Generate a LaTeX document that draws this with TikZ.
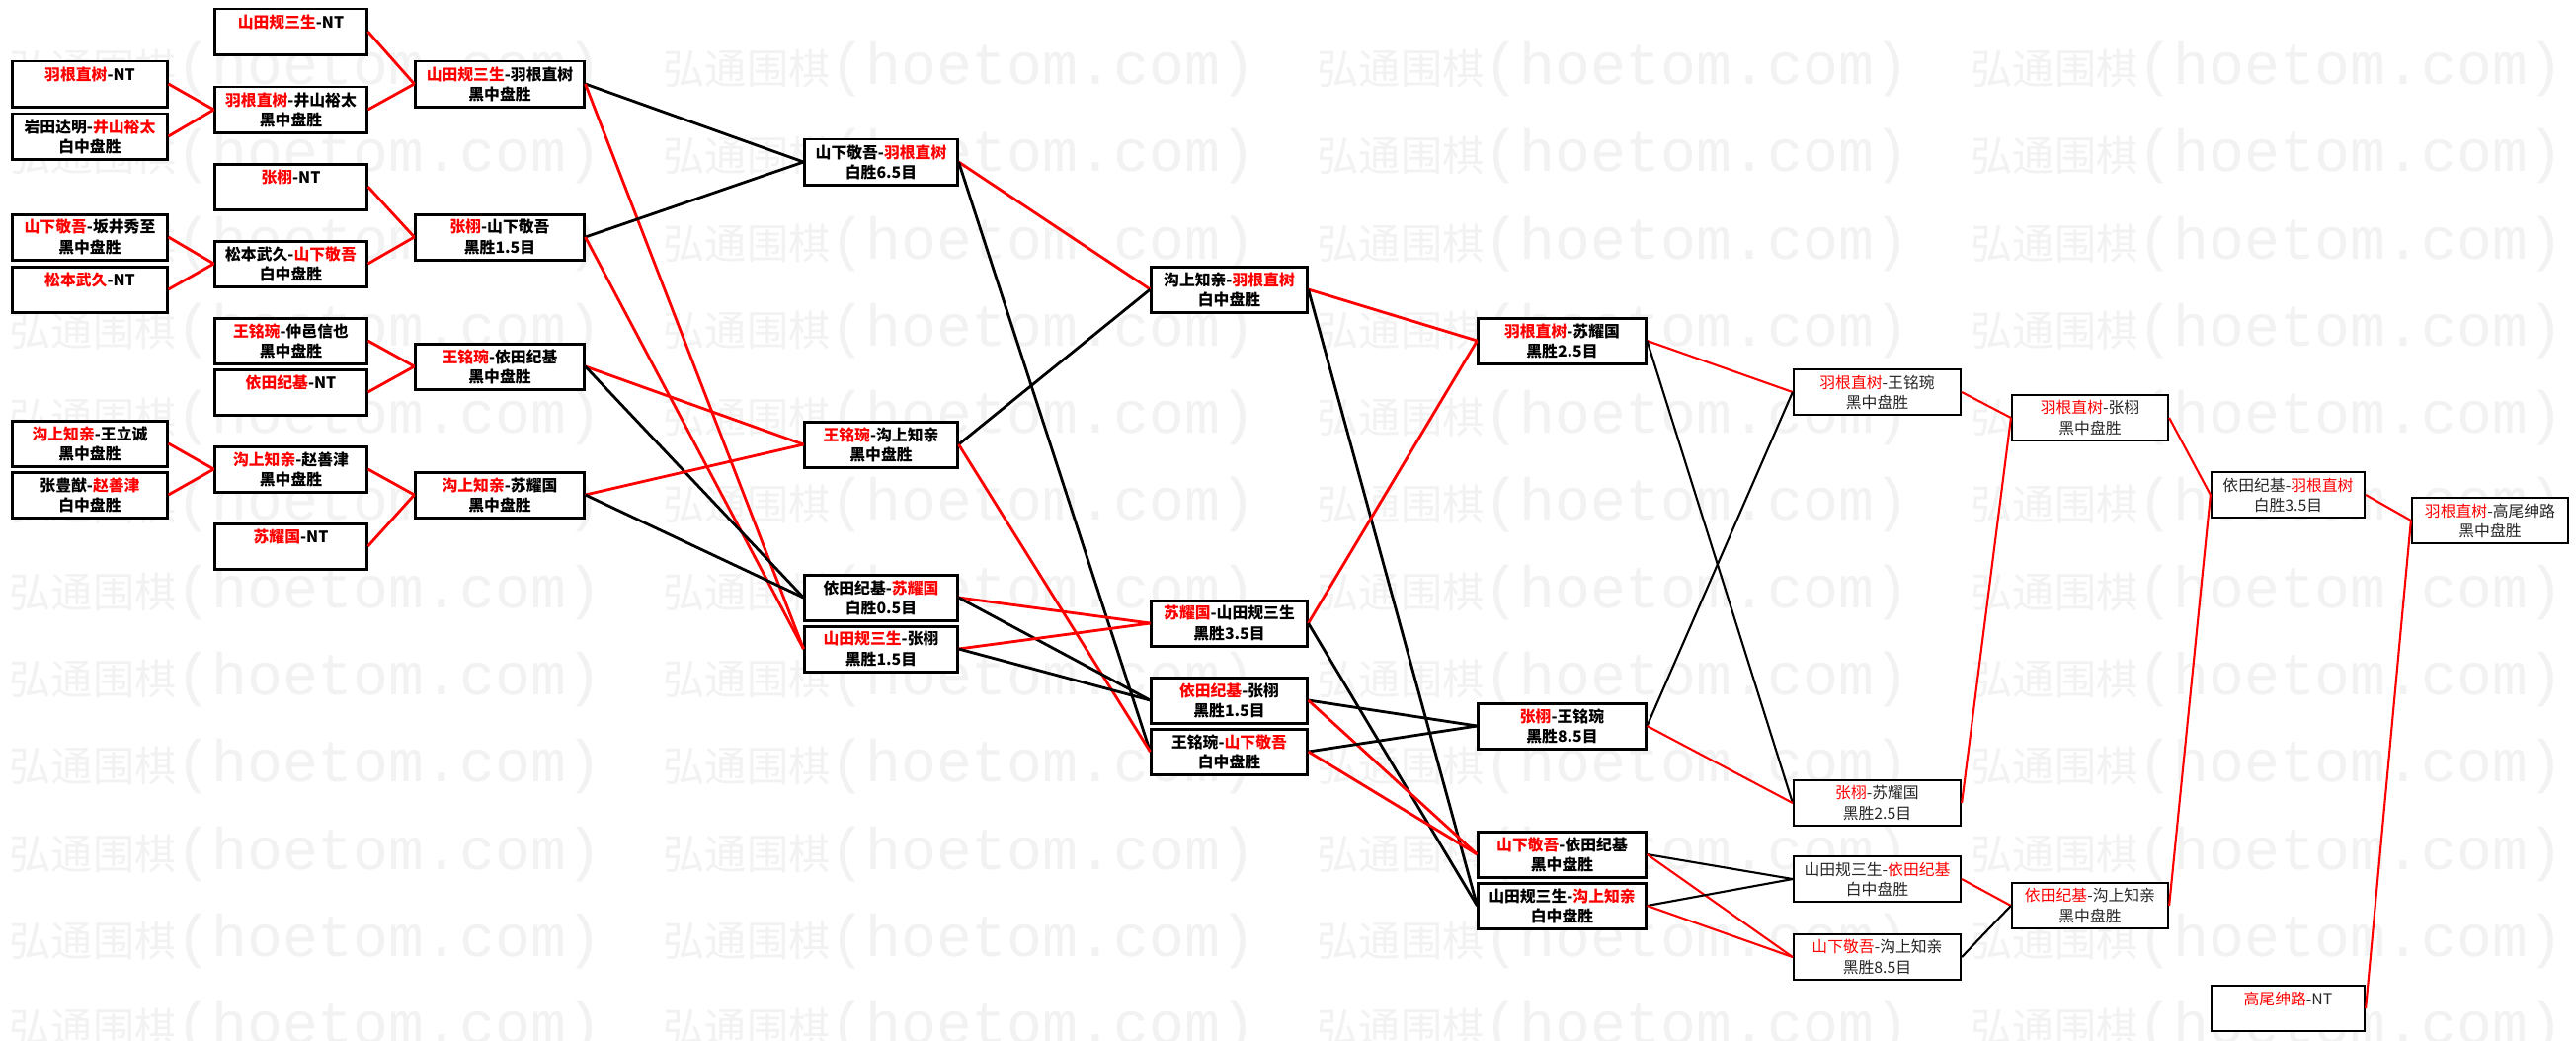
\documentclass[tikz,border=0pt]{standalone}
\usepackage{fontspec}
\setmainfont{Noto Sans CJK SC}
\newfontfamily\cjk{Noto Sans CJK SC}
\newfontfamily\wmmono{Liberation Mono}
\newcommand{\rd}[1]{\textcolor{red}{#1}}
\tikzset{
  bx/.style={draw=black, line width=0.85pt, fill=white, minimum height=0.46cm,
    inner sep=0pt, align=center, font=\fontsize{4.5pt}{5.7pt}\selectfont\bfseries},
  bxl/.style={draw=black, line width=0.6pt, fill=white, minimum height=0.46cm,
    inner sep=0pt, align=center, text=black!85, font=\fontsize{4.5pt}{5.7pt}\selectfont},
  win/.style={red, line width=0.8pt},
  lose/.style={black, line width=0.8pt},
  winl/.style={red, line width=0.6pt},
  losel/.style={black, line width=0.6pt},
  wm/.style={text=black!5, inner sep=0pt, anchor=west},
}
\begin{document}
\begin{tikzpicture}[x=0.01cm,y=-0.01cm]
\useasboundingbox[fill=white] (0,0) rectangle (2608,1053);
% watermark
\foreach \r in {0,...,11}{
  \foreach \c in {0,...,3}{
    \node[wm] (wm\r-\c) at ({9+662*\c},{70+88.3*\r})
      {{\cjk\fontsize{12pt}{12pt}\selectfont 弘通围棋}{\wmmono\fontsize{17pt}{17pt}\selectfont (hoetom.com)}};
  }
}
% round 1
\node[bx, minimum width=1.56cm] (n1a) at (91,85)  {\rd{羽根直树}-NT\\\mbox{}};
\node[bx, minimum width=1.56cm] (n1b) at (91,138) {岩田达明-\rd{井山裕太}\\白中盘胜};
\node[bx, minimum width=1.56cm] (n1c) at (91,240) {\rd{山下敬吾}-坂井秀至\\黑中盘胜};
\node[bx, minimum width=1.56cm] (n1d) at (91,293) {\rd{松本武久}-NT\\\mbox{}};
\node[bx, minimum width=1.56cm] (n1e) at (91,449) {\rd{沟上知亲}-王立诚\\黑中盘胜};
\node[bx, minimum width=1.56cm] (n1f) at (91,501) {张豊猷-\rd{赵善津}\\白中盘胜};
% round 2
\node[bx, minimum width=1.53cm] (n2a) at (294.5,32)  {\rd{山田规三生}-NT\\\mbox{}};
\node[bx, minimum width=1.53cm] (n2b) at (294.5,111) {\rd{羽根直树}-井山裕太\\黑中盘胜};
\node[bx, minimum width=1.53cm] (n2c) at (294.5,189) {\rd{张栩}-NT\\\mbox{}};
\node[bx, minimum width=1.53cm] (n2d) at (294.5,267) {松本武久-\rd{山下敬吾}\\白中盘胜};
\node[bx, minimum width=1.53cm] (n2e) at (294.5,345) {\rd{王铭琬}-仲邑信也\\黑中盘胜};
\node[bx, minimum width=1.53cm] (n2f) at (294.5,397) {\rd{依田纪基}-NT\\\mbox{}};
\node[bx, minimum width=1.53cm] (n2g) at (294.5,475) {\rd{沟上知亲}-赵善津\\黑中盘胜};
\node[bx, minimum width=1.53cm] (n2h) at (294.5,553) {\rd{苏耀国}-NT\\\mbox{}};
% round 3
\node[bx, minimum width=1.70cm] (n3a) at (506,85)  {\rd{山田规三生}-羽根直树\\黑中盘胜};
\node[bx, minimum width=1.70cm] (n3b) at (506,240) {\rd{张栩}-山下敬吾\\黑胜1.5目};
\node[bx, minimum width=1.70cm] (n3c) at (506,371) {\rd{王铭琬}-依田纪基\\黑中盘胜};
\node[bx, minimum width=1.70cm] (n3d) at (506,501) {\rd{沟上知亲}-苏耀国\\黑中盘胜};
% round 4
\node[bx, minimum width=1.54cm] (n4a) at (892,164) {山下敬吾-\rd{羽根直树}\\白胜6.5目};
\node[bx, minimum width=1.54cm] (n4b) at (892,450) {\rd{王铭琬}-沟上知亲\\黑中盘胜};
\node[bx, minimum width=1.54cm] (n4c) at (892,605) {依田纪基-\rd{苏耀国}\\白胜0.5目};
\node[bx, minimum width=1.54cm] (n4d) at (892,657) {\rd{山田规三生}-张栩\\黑胜1.5目};
% round 5
\node[bx, minimum width=1.57cm] (n5a) at (1244.5,293) {沟上知亲-\rd{羽根直树}\\白中盘胜};
\node[bx, minimum width=1.57cm] (n5b) at (1244.5,631) {\rd{苏耀国}-山田规三生\\黑胜3.5目};
\node[bx, minimum width=1.57cm] (n5c) at (1244.5,709) {\rd{依田纪基}-张栩\\黑胜1.5目};
\node[bx, minimum width=1.57cm] (n5d) at (1244.5,761) {王铭琬-\rd{山下敬吾}\\白中盘胜};
% round 6
\node[bx, minimum width=1.69cm] (n6a) at (1581.5,345) {\rd{羽根直树}-苏耀国\\黑胜2.5目};
\node[bx, minimum width=1.69cm] (n6b) at (1581.5,735) {\rd{张栩}-王铭琬\\黑胜8.5目};
\node[bx, minimum width=1.69cm] (n6c) at (1581.5,865) {\rd{山下敬吾}-依田纪基\\黑中盘胜};
\node[bx, minimum width=1.69cm] (n6d) at (1581.5,917) {山田规三生-\rd{沟上知亲}\\白中盘胜};
% round 7
\node[bxl, minimum width=1.69cm] (n7a) at (1900.5,397) {\rd{羽根直树}-王铭琬\\黑中盘胜};
\node[bxl, minimum width=1.69cm] (n7b) at (1900.5,813) {\rd{张栩}-苏耀国\\黑胜2.5目};
\node[bxl, minimum width=1.69cm] (n7c) at (1900.5,890) {山田规三生-\rd{依田纪基}\\白中盘胜};
\node[bxl, minimum width=1.69cm] (n7d) at (1900.5,969) {\rd{山下敬吾}-沟上知亲\\黑胜8.5目};
% round 8
\node[bxl, minimum width=1.58cm] (n8a) at (2116,423) {\rd{羽根直树}-张栩\\黑中盘胜};
\node[bxl, minimum width=1.58cm] (n8b) at (2116,917) {\rd{依田纪基}-沟上知亲\\黑中盘胜};
% round 9
\node[bxl, minimum width=1.55cm] (n9a) at (2316.5,501)  {依田纪基-\rd{羽根直树}\\白胜3.5目};
\node[bxl, minimum width=1.55cm] (n9b) at (2316.5,1021) {\rd{高尾绅路}-NT\\\mbox{}};
% round 10
\node[bxl, minimum width=1.58cm] (n10) at (2521,527) {\rd{羽根直树}-高尾绅路\\黑中盘胜};
% connectors 1->2
\draw[win] (n1a.east) -- (n2b.west);
\draw[win] (n1b.east) -- (n2b.west);
\draw[win] (n1c.east) -- (n2d.west);
\draw[win] (n1d.east) -- (n2d.west);
\draw[win] (n1e.east) -- (n2g.west);
\draw[win] (n1f.east) -- (n2g.west);
% 2->3
\draw[win] (n2a.east) -- (n3a.west);
\draw[win] (n2b.east) -- (n3a.west);
\draw[win] (n2c.east) -- (n3b.west);
\draw[win] (n2d.east) -- (n3b.west);
\draw[win] (n2e.east) -- (n3c.west);
\draw[win] (n2f.east) -- (n3c.west);
\draw[win] (n2g.east) -- (n3d.west);
\draw[win] (n2h.east) -- (n3d.west);
% 3->4
\draw[lose] (n3a.east) -- (n4a.west);
\draw[win]  (n3a.east) -- (n4d.west);
\draw[lose] (n3b.east) -- (n4a.west);
\draw[win]  (n3b.east) -- (n4d.west);
\draw[win]  (n3c.east) -- (n4b.west);
\draw[lose] (n3c.east) -- (n4c.west);
\draw[win]  (n3d.east) -- (n4b.west);
\draw[lose] (n3d.east) -- (n4c.west);
% 4->5
\draw[win]  (n4a.east) -- (n5a.west);
\draw[lose] (n4a.east) -- (n5d.west);
\draw[lose] (n4b.east) -- (n5a.west);
\draw[win]  (n4b.east) -- (n5d.west);
\draw[win]  (n4c.east) -- (n5b.west);
\draw[lose] (n4c.east) -- (n5c.west);
\draw[win]  (n4d.east) -- (n5b.west);
\draw[lose] (n4d.east) -- (n5c.west);
% 5->6
\draw[win]  (n5a.east) -- (n6a.west);
\draw[lose] (n5a.east) -- (n6d.west);
\draw[win]  (n5b.east) -- (n6a.west);
\draw[lose] (n5b.east) -- (n6d.west);
\draw[lose] (n5c.east) -- (n6b.west);
\draw[win]  (n5c.east) -- (n6c.west);
\draw[lose] (n5d.east) -- (n6b.west);
\draw[win]  (n5d.east) -- (n6c.west);
% 6->7
\draw[winl]  (n6a.east) -- (n7a.west);
\draw[losel] (n6a.east) -- (n7b.west);
\draw[losel] (n6b.east) -- (n7a.west);
\draw[winl]  (n6b.east) -- (n7b.west);
\draw[losel] (n6c.east) -- (n7c.west);
\draw[winl]  (n6c.east) -- (n7d.west);
\draw[losel] (n6d.east) -- (n7c.west);
\draw[winl]  (n6d.east) -- (n7d.west);
% 7->8
\draw[winl]  (n7a.east) -- (n8a.west);
\draw[winl]  (n7b.east) -- (n8a.west);
\draw[winl]  (n7c.east) -- (n8b.west);
\draw[losel] (n7d.east) -- (n8b.west);
% 8->9
\draw[winl] (n8a.east) -- (n9a.west);
\draw[winl] (n8b.east) -- (n9a.west);
% 9->10
\draw[winl] (n9a.east) -- (n10.west);
\draw[winl] (n9b.east) -- (n10.west);
\end{tikzpicture}
\end{document}
